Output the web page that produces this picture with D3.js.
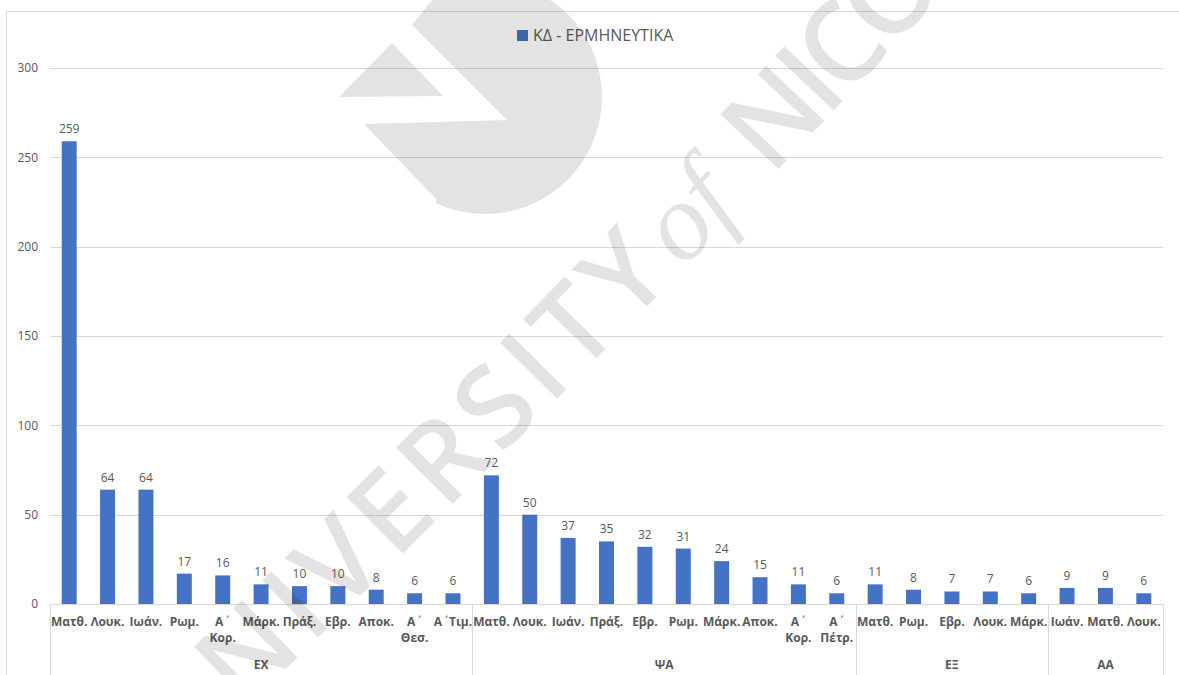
<!DOCTYPE html>
<html>
<head>
<meta charset="utf-8">
<script src="https://cdn.jsdelivr.net/npm/d3@7"></script>
<style>
  body { margin: 0; background: #fff; }
  svg { display: block; font-family: "Open Sans", "Noto Sans", sans-serif; }
</style>
</head>
<body>
<svg id="chart" width="1179" height="675"></svg>
<script>
// Series name shown in the legend
const seriesName = "ΚΔ - ΕΡΜΗΝΕΥΤΙΚΑ";

// Inner category level (books), in plotting order
const books = [
  "Ματθ.", "Λουκ.", "Ιωάν.", "Ρωμ.", "Α΄ Κορ.", "Μάρκ.", "Πράξ.", "Εβρ.", "Αποκ.", "Α΄ Θεσ.", "Α΄Τιμ.",
  "Ματθ.", "Λουκ.", "Ιωάν.", "Πράξ.", "Εβρ.", "Ρωμ.", "Μάρκ.", "Αποκ.", "Α΄ Κορ.", "Α΄ Πέτρ.",
  "Ματθ.", "Ρωμ.", "Εβρ.", "Λουκ.", "Μάρκ.",
  "Ιωάν.", "Ματθ.", "Λουκ."
];

// Values for each book
const counts = [
  259, 64, 64, 17, 16, 11, 10, 10, 8, 6, 6,
  72, 50, 37, 35, 32, 31, 24, 15, 11, 6,
  11, 8, 7, 7, 6,
  9, 9, 6
];

// Outer category level and the number of books in each group
const groupLabels = ["ΕΧ", "ΨΑ", "ΕΞ", "ΑΑ"];
const groupSizes = [11, 10, 5, 3];

// Value axis ticks
const yTicks = [0, 50, 100, 150, 200, 250, 300];

const svg = d3.select("#chart");
const W = 1179, H = 675;
const plot = { left: 50, right: 1163, top: 68, bottom: 604 };
const textColor = "#595959";
const gridColor = "#d9d9d9";
const barColor = "#4472C4";
const TONOS = "\u0384";

// Chart frame
svg.append("rect")
  .attr("x", 6.5).attr("y", 11.5)
  .attr("width", W + 10).attr("height", H + 10)
  .attr("fill", "#fff").attr("stroke", gridColor);

const x = d3.scaleBand()
  .domain(d3.range(books.length))
  .range([plot.left, plot.right])
  .paddingInner(0.61)
  .paddingOuter(0.305);

const y = d3.scaleLinear()
  .domain([0, 300])
  .range([plot.bottom, plot.top]);

// Horizontal gridlines
svg.append("g")
  .selectAll("line")
  .data(yTicks.filter(d => d > 0))
  .join("line")
  .attr("x1", plot.left).attr("x2", plot.right)
  .attr("y1", d => Math.round(y(d)) + 0.5).attr("y2", d => Math.round(y(d)) + 0.5)
  .attr("stroke", gridColor).attr("stroke-width", 1);

// Value axis labels
const yAxis = d3.axisLeft(y).tickValues(yTicks).tickSize(0).tickPadding(0);
const yg = svg.append("g")
  .attr("transform", `translate(${plot.left - 12},0)`)
  .call(yAxis);
yg.select(".domain").remove();
yg.selectAll("text")
  .attr("fill", textColor)
  .attr("font-size", 12)
  .attr("font-family", "\"Open Sans\", sans-serif");

// Bars
svg.append("g")
  .selectAll("rect")
  .data(counts)
  .join("rect")
  .attr("x", (d, i) => x(i))
  .attr("y", d => y(d))
  .attr("width", x.bandwidth())
  .attr("height", d => y(0) - y(d))
  .attr("fill", barColor);

// Value labels above bars
svg.append("g")
  .selectAll("text")
  .data(counts)
  .join("text")
  .attr("x", (d, i) => x(i) + x.bandwidth() / 2)
  .attr("y", d => y(d) - 8)
  .attr("text-anchor", "middle")
  .attr("font-size", 12)
  .attr("fill", textColor)
  .text(d => d);

// Category axis line
svg.append("line")
  .attr("x1", plot.left).attr("x2", plot.right)
  .attr("y1", plot.bottom + 0.5).attr("y2", plot.bottom + 0.5)
  .attr("stroke", gridColor);

// Group boundaries (multi-level axis dividers)
const step = x.step();
const halfGap = step * x.paddingInner() / 2;
const starts = groupSizes.map((s, i) => d3.sum(groupSizes.slice(0, i)));
const boundaries = starts.map(s => x(s) - halfGap).concat([plot.right]);
svg.append("g")
  .selectAll("line")
  .data(boundaries)
  .join("line")
  .attr("x1", d => Math.round(d) + 0.5).attr("x2", d => Math.round(d) + 0.5)
  .attr("y1", plot.bottom).attr("y2", H)
  .attr("stroke", gridColor);

// Inner category labels, wrapped on spaces; the tonos numeral mark is set
// in a font whose glyph advances to the right of the capital before it
const cat = svg.append("g")
  .attr("font-size", 12)
  .attr("font-weight", 700)
  .attr("fill", textColor)
  .attr("text-anchor", "middle");
books.forEach((label, i) => {
  const cx = x(i) + x.bandwidth() / 2;
  const t = cat.append("text").attr("x", cx).attr("y", plot.bottom + 22);
  label.split(" ").forEach((part, j) => {
    const line = t.append("tspan")
      .attr("x", cx)
      .attr("dy", j === 0 ? 0 : 16);
    const k = part.indexOf(TONOS);
    if (k < 0) {
      line.text(part);
    } else {
      line.append("tspan").text(part.slice(0, k));
      line.append("tspan")
        .attr("font-family", "\"DejaVu Sans\", sans-serif")
        .attr("font-weight", 400)
        .attr("dx", 1)
        .text(TONOS);
      if (k + 1 < part.length) {
        line.append("tspan").text(part.slice(k + 1));
      }
    }
  });
});

// Outer group labels
svg.append("g")
  .selectAll("text")
  .data(groupLabels)
  .join("text")
  .attr("x", (d, i) => (boundaries[i] + boundaries[i + 1]) / 2)
  .attr("y", plot.bottom + 65)
  .attr("text-anchor", "middle")
  .attr("font-size", 12)
  .attr("font-weight", 700)
  .attr("fill", textColor)
  .text(d => d);

// Legend
const legend = svg.append("g").attr("transform", "translate(517,30)");
legend.append("rect")
  .attr("width", 11).attr("height", 11)
  .attr("fill", barColor);
legend.append("text")
  .attr("x", 16).attr("y", 11)
  .attr("font-size", 16)
  .attr("fill", textColor)
  .text(seriesName);

// Institutional watermark overlay (semi-transparent, on top of the chart)
const wm = svg.append("g")
  .attr("fill", "#000")
  .attr("fill-opacity", 0.11)
  .style("pointer-events", "none");

const lc = [485, 97], lr = 117;
const arcPts = d3.range(115, -66, -5).map(a => {
  const rad = a * Math.PI / 180;
  return [lc[0] + lr * Math.cos(rad), lc[1] + lr * Math.sin(rad)];
});
const logo = d3.path();
logo.moveTo(432, 0);
logo.lineTo(412, 25);
logo.lineTo(507, 120);
logo.lineTo(364, 124);
logo.lineTo(437, 200);
arcPts.forEach(p => logo.lineTo(p[0], p[1]));
logo.lineTo(540, 0);
logo.closePath();
wm.append("path").attr("d", logo.toString());
wm.append("path").attr("d", "M392,43 L339,97 L443,96 Z");

// Baseline curve for the lettering
const guide = svg.append("path")
  .attr("d", "M150,800 Q600,370 1010,-80")
  .attr("fill", "none").attr("stroke", "none");
const guideNode = guide.node();

function pointAt(s) {
  const p = guideNode.getPointAtLength(s);
  const q = guideNode.getPointAtLength(s + 1);
  return { x: p.x, y: p.y, angle: Math.atan2(q.y - p.y, q.x - p.x) * 180 / Math.PI };
}

// Lays a word along the curve, one glyph per text element, so that glyph i0
// is centred at arc length s0 and glyph i1 at arc length s1.
// Glyphs that would fall entirely outside the drawing are skipped.
function letterWord(word, i0, s0, i1, s1, attrs) {
  const probe = wm.append("text");
  Object.entries(attrs).forEach(([k, v]) => probe.attr(k, v));
  const adv = Array.from(word).map(ch => {
    probe.text(ch);
    return probe.node().getComputedTextLength();
  });
  probe.remove();
  const centre = [];
  let acc = 0;
  adv.forEach((a, i) => { centre.push(acc + a / 2); acc += a; });
  const gap = ((s1 - s0) - (centre[i1] - centre[i0])) / (i1 - i0);
  Array.from(word).forEach((ch, i) => {
    const s = s0 + (centre[i] - centre[i0]) + gap * (i - i0);
    const p = pointAt(s);
    if (p.x < -40 || p.x > W + 40 || p.y < -20 || p.y > H + 60) return;
    const t = wm.append("text")
      .attr("text-anchor", "middle")
      .attr("transform", `translate(${p.x},${p.y}) rotate(${p.angle})`)
      .text(ch);
    Object.entries(attrs).forEach(([k, v]) => t.attr(k, v));
  });
}

const sansAttrs = { "font-size": 112, "font-weight": 600, "font-family": "\"Open Sans\", sans-serif" };
letterWord("UNIVERSITY", 3, 300, 9, 707, sansAttrs);
letterWord("of", 0, 780, 1, 822, {
  "font-size": 110, "font-style": "italic", "font-family": "\"Liberation Serif\", serif"
});
letterWord("NICOSIA", 0, 924, 2, 1023, sansAttrs);
</script>
</body>
</html>
